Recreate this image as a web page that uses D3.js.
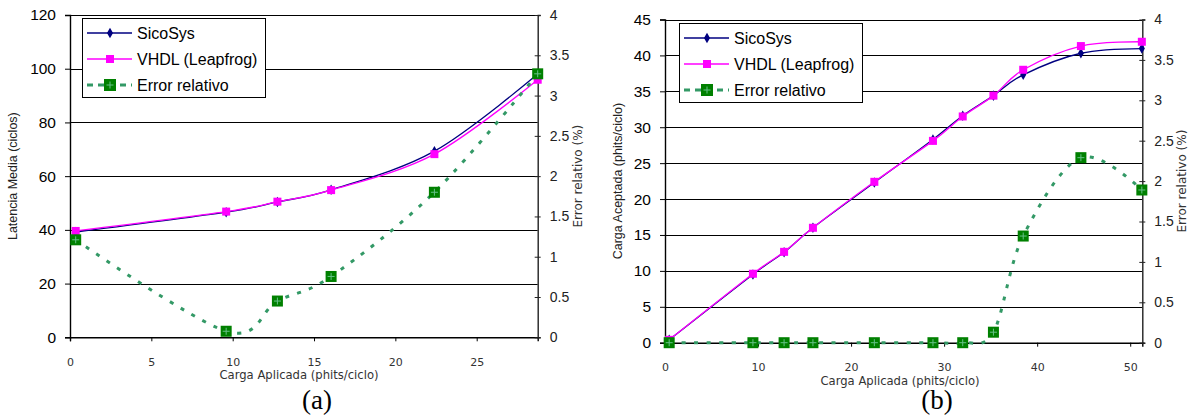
<!DOCTYPE html>
<html><head><meta charset="utf-8">
<script src="https://cdn.jsdelivr.net/npm/d3@7"></script>
<style>
html,body{margin:0;padding:0;background:#fff;}
svg{display:block;}
</style></head>
<body>
<svg id="chart" width="1191" height="416"></svg>
<script>
// ---------- DATA ----------
const seriesNames = ["SicoSys", "VHDL (Leapfrog)", "Error relativo"];

// Panel (a): latency
const loadA = [0.35, 9.6, 12.75, 16.05, 22.4, 28.75];
const sicoA = [39.2, 46.6, 50.4, 54.9, 69.3, 98.0];
const vhdlA = [39.6, 46.8, 50.5, 54.8, 68.2, 95.9];
const errA  = [1.21, 0.075, 0.45, 0.755, 1.80, 3.27];
const xTicksA = [0, 5, 10, 15, 20, 25];
const yTicksA = [0, 20, 40, 60, 80, 100, 120];

// Panel (b): accepted load
const loadB = [0.45, 9.45, 12.8, 15.9, 22.5, 28.8, 32.0, 35.3, 38.5, 44.7, 51.25];
const sicoB = [0.4, 9.5, 12.6, 16.0, 22.3, 28.3, 31.6, 34.4, 37.3, 40.3, 40.95];
const vhdlB = [0.4, 9.6, 12.65, 16.0, 22.4, 28.1, 31.5, 34.4, 38.0, 41.3, 41.9];
const errB  = [0, 0, 0, 0, 0, 0, 0, 0.13, 1.32, 2.29, 1.89];
const xTicksB = [0, 10, 20, 30, 40, 50];
const yTicksB = [0, 5, 10, 15, 20, 25, 30, 35, 40, 45];

const errTicks = [0, 0.5, 1, 1.5, 2, 2.5, 3, 3.5, 4];

const xTitle = "Carga Aplicada (phits/ciclo)";
const yTitleA = "Latencia Media (ciclos)";
const yTitleB = "Carga Aceptada (phits/ciclo)";
const y2Title = "Error relativo (%)";

// ---------- STYLE ----------
const C_SICO = "#000080", C_VHDL = "#ff00ff", C_ERR = "#339966", C_ERRM = "#008000", C_PLUS = "#66c088";
const SANS = "'Liberation Sans', Arial, sans-serif";
const DJV = "'DejaVu Sans', Verdana, sans-serif";

const svg = d3.select("#chart");

function drawPanel(cfg) {
  const g = svg.append("g");
  const x = d3.scaleLinear().domain(cfg.xDomain).range([cfg.left, cfg.right]);
  const y = d3.scaleLinear().domain(cfg.yDomain).range([cfg.bottom, cfg.top]);
  const y2 = d3.scaleLinear().domain([0, 4]).range([cfg.bottom, cfg.top]);

  // gridlines
  g.append("g").selectAll("line").data(cfg.yTicks).join("line")
    .attr("x1", cfg.left).attr("x2", cfg.right)
    .attr("y1", d => Math.round(y(d)) + 0.5).attr("y2", d => Math.round(y(d)) + 0.5)
    .attr("stroke", "#000").attr("stroke-width", 1);

  // left axis
  const la = g.append("g").attr("transform", `translate(${cfg.left},0)`)
    .call(d3.axisLeft(y).tickValues(cfg.yTicks).tickSize(5).tickPadding(9).tickFormat(d3.format("d")));
  la.select(".domain").attr("stroke", "#000").attr("stroke-width", 1.4);
  la.selectAll(".tick line").attr("stroke", "#000");
  la.selectAll(".tick text").attr("font-family", SANS).attr("font-size", 15.5).attr("fill", "#000");

  // bottom axis
  const ba = g.append("g").attr("transform", `translate(0,${cfg.bottom})`)
    .call(d3.axisBottom(x).tickValues(cfg.xTicks).tickSize(4).tickPadding(17).tickFormat(d3.format("d")));
  ba.select(".domain").attr("stroke", "#000").attr("stroke-width", 1.4);
  ba.selectAll(".tick line").attr("stroke", "#000");
  ba.selectAll(".tick text").attr("font-family", DJV).attr("font-size", 11).attr("fill", "#333");

  // right axis
  const ra = g.append("g").attr("transform", `translate(${cfg.right},0)`)
    .call(d3.axisRight(y2).tickValues(errTicks).tickSize(3).tickPadding(9).tickFormat(d => d));
  ra.select(".domain").attr("stroke", "#222").attr("stroke-width", 1.4);
  ra.selectAll(".tick line").attr("x1", -3).attr("stroke", "#222");
  ra.selectAll(".tick text").attr("font-family", SANS).attr("font-size", 14).attr("fill", "#222");

  // axis titles
  const midY = (cfg.top + cfg.bottom) / 2;
  g.append("text").attr("transform", `translate(${cfg.yTitleX},${midY}) rotate(-90)`)
    .attr("text-anchor", "middle").attr("dominant-baseline", "central")
    .attr("font-family", SANS).attr("font-size", 12.5).attr("fill", "#222").text(cfg.yTitle);
  g.append("text").attr("transform", `translate(${cfg.y2TitleX},${midY}) rotate(-90)`)
    .attr("text-anchor", "middle").attr("dominant-baseline", "central")
    .attr("font-family", DJV).attr("font-size", 12).attr("fill", "#333").text(y2Title);
  g.append("text").attr("x", cfg.xTitleX).attr("y", cfg.bottom + 42)
    .attr("text-anchor", "middle").attr("font-family", DJV).attr("font-size", 11.6)
    .attr("fill", "#333").text(xTitle);
  g.append("text").attr("x", cfg.labelX).attr("y", 409)
    .attr("text-anchor", "middle").attr("font-family", "'Liberation Serif','Times New Roman',serif")
    .attr("font-size", 27).attr("fill", "#000").text(cfg.label);

  const curve = d3.curveCardinal.tension(0);
  const lineS = d3.line().x((d, i) => x(cfg.load[i])).y(d => y(d)).curve(curve);
  const lineE = d3.line().x((d, i) => x(cfg.load[i])).y(d => y2(d)).curve(curve);

  // SicoSys
  g.append("path").attr("d", lineS(cfg.sico)).attr("fill", "none").attr("stroke", C_SICO).attr("stroke-width", 1.3);
  g.append("g").selectAll("path").data(cfg.sico).join("path")
    .attr("transform", (d, i) => `translate(${x(cfg.load[i])},${y(d)})`)
    .attr("d", d3.symbol(d3.symbolDiamond, 32)).attr("fill", C_SICO);
  // VHDL
  g.append("path").attr("d", lineS(cfg.vhdl)).attr("fill", "none").attr("stroke", C_VHDL).attr("stroke-width", 1.3);
  g.append("g").selectAll("rect").data(cfg.vhdl).join("rect")
    .attr("x", (d, i) => x(cfg.load[i]) - 4).attr("y", d => y(d) - 4)
    .attr("width", 8).attr("height", 8).attr("fill", C_VHDL);
  // Error
  g.append("path").attr("d", lineE(cfg.err)).attr("fill", "none").attr("stroke", C_ERR)
    .attr("stroke-width", 3).attr("stroke-dasharray", "4,8.5");
  const em = g.append("g").selectAll("g").data(cfg.err).join("g")
    .attr("transform", (d, i) => `translate(${x(cfg.load[i])},${y2(d)})`);
  em.append("rect").attr("x", -5.5).attr("y", -5.5).attr("width", 11).attr("height", 11).attr("fill", C_ERRM);
  em.append("path").attr("d", "M-3.5,0H3.5M0,-3.5V3.5").attr("stroke", C_PLUS).attr("stroke-width", 1);

  // legend
  const L = cfg.legend;
  const lg = g.append("g");
  lg.append("rect").attr("x", L.x + 0.5).attr("y", L.y + 0.5).attr("width", 183).attr("height", 79)
    .attr("fill", "#fff").attr("stroke", "#000").attr("stroke-width", 1);
  const rows = [15, 41, 67];
  rows.forEach((ry, k) => {
    const cy = L.y + ry, x0 = L.x + 5, x1 = L.x + 50, mx = L.x + 28;
    if (k === 0) {
      lg.append("line").attr("x1", x0).attr("x2", x1).attr("y1", cy).attr("y2", cy).attr("stroke", C_SICO).attr("stroke-width", 1.3);
      lg.append("path").attr("transform", `translate(${mx},${cy})`).attr("d", d3.symbol(d3.symbolDiamond, 32)).attr("fill", C_SICO);
    } else if (k === 1) {
      lg.append("line").attr("x1", x0).attr("x2", x1).attr("y1", cy).attr("y2", cy).attr("stroke", C_VHDL).attr("stroke-width", 1.3);
      lg.append("rect").attr("x", mx - 4).attr("y", cy - 4).attr("width", 8).attr("height", 8).attr("fill", C_VHDL);
    } else {
      lg.append("line").attr("x1", x0).attr("x2", x1).attr("y1", cy).attr("y2", cy).attr("stroke", C_ERR).attr("stroke-width", 3).attr("stroke-dasharray", "6,5");
      lg.append("rect").attr("x", mx - 6).attr("y", cy - 6).attr("width", 12).attr("height", 12).attr("fill", C_ERRM);
      lg.append("path").attr("d", `M${mx - 3.5},${cy}H${mx + 3.5}M${mx},${cy - 3.5}V${cy + 3.5}`).attr("stroke", C_PLUS).attr("stroke-width", 1);
    }
    lg.append("text").attr("x", L.x + 55).attr("y", cy).attr("dominant-baseline", "central")
      .attr("font-family", SANS).attr("font-size", 16).attr("fill", "#000").text(seriesNames[k]);
  });
}

drawPanel({
  left: 70, right: 537.7, top: 15, bottom: 337.3,
  xDomain: [0, 28.75], yDomain: [0, 120], xTicks: xTicksA, yTicks: yTicksA,
  load: loadA, sico: sicoA, vhdl: vhdlA, err: errA,
  yTitle: yTitleA, yTitleX: 13, y2TitleX: 578, xTitleX: 299, labelX: 317, label: "(a)",
  legend: { x: 82, y: 18 }
});
drawPanel({
  left: 665, right: 1142.3, top: 19.5, bottom: 342.7,
  xDomain: [0, 51.3], yDomain: [0, 45], xTicks: xTicksB, yTicks: yTicksB,
  load: loadB, sico: sicoB, vhdl: vhdlB, err: errB,
  yTitle: yTitleB, yTitleX: 618, y2TitleX: 1182, xTitleX: 900, labelX: 937, label: "(b)",
  legend: { x: 679, y: 23 }
});
</script>
</body></html>
